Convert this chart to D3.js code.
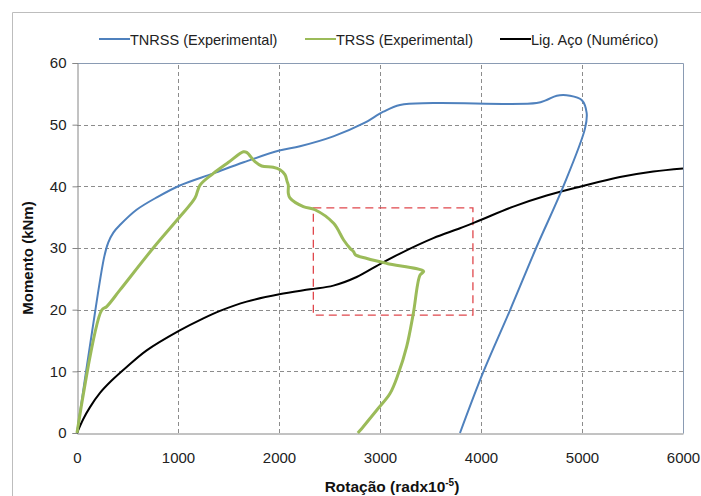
<!DOCTYPE html>
<html>
<head>
<meta charset="utf-8">
<script src="https://cdn.jsdelivr.net/npm/d3@7"></script>
<style>
  html, body { margin: 0; padding: 0; background: #fff; }
  svg { display: block; font-family: "Liberation Sans", Arial, sans-serif; }
</style>
</head>
<body>
<svg id="chart" width="701" height="496"></svg>
<script>
// Moment-rotation curves: rotation (rad x 10^-5) vs moment (kNm)
const xTicks = [0, 1000, 2000, 3000, 4000, 5000, 6000];
const yTicks = [0, 10, 20, 30, 40, 50, 60];

const seriesNames = ["TNRSS (Experimental)", "TRSS (Experimental)", "Lig. Aço (Numérico)"];
const seriesColors = ["#4f81bd", "#9bbb59", "#000000"];

// TNRSS: loading branch, plateau, then unloading back to zero moment
const tnrss = [
  [0, 0], [150, 16.5], [270, 28.6], [310, 30.9], [360, 32.5], [430, 33.8], [590, 36.2],
  [800, 38.3], [1013, 40.1], [1350, 42.1], [1650, 43.9], [2003, 45.8], [2208, 46.5],
  [2538, 48.1], [2835, 50.2], [3033, 52.1], [3198, 53.2], [3528, 53.5], [4551, 53.5],
  [4650, 54.0], [4750, 54.7], [4881, 54.7], [4997, 54.0], [5046, 51.9], [5030, 49.4],
  [4815, 40.0], [4551, 30.2], [4287, 19.9], [4023, 9.9], [3792, 0]
];

// TRSS: loading to the peak, softening, then unloading
const trss = [
  [0, 0], [244, 19.9], [294, 20.5], [426, 23.2], [755, 30.0], [1020, 35.1], [1168, 38.1],
  [1218, 40.2], [1350, 42.1], [1500, 43.9], [1647, 45.6], [1680, 45.5], [1762, 44.0],
  [1828, 43.3], [1943, 43.1], [2010, 42.7], [2059, 41.9], [2080, 40.8], [2092, 40.2],
  [2092, 38.9], [2109, 38.1], [2241, 36.7], [2356, 36.2], [2541, 34.0], [2640, 31.3],
  [2706, 29.9], [2739, 29.4], [2756, 28.9], [2871, 28.3], [3069, 27.5], [3432, 26.2],
  [3396, 25.6], [3330, 19.4], [3264, 14.0], [3181, 9.6], [3099, 6.4], [2967, 3.7],
  [2802, 0.4], [2780, 0]
];

// Numerical model of the steel connection
const ligAco = [
  [0, 0], [60, 2.2], [129, 4.2], [228, 6.5], [343, 8.5], [492, 10.7], [690, 13.4],
  [1013, 16.6], [1251, 18.6], [1416, 19.8], [1680, 21.3], [2003, 22.5], [2307, 23.3],
  [2538, 23.9], [2769, 25.3], [3000, 27.4], [3198, 29.1], [3528, 31.6], [3792, 33.2],
  [3990, 34.5], [4320, 36.7], [4650, 38.5], [4997, 40.0], [5376, 41.5], [5706, 42.4],
  [6000, 42.9]
];

// Highlighted region (rotation / moment bounds)
const highlightX = [2340, 3920];
const highlightY = [19.1, 36.5];

const svg = d3.select("#chart");
const W = 701, H = 496;
const margin = { left: 77, right: 18, top: 63, bottom: 63 };
const iw = W - margin.left - margin.right;
const ih = H - margin.top - margin.bottom;

// Outer chart frame
svg.append("path")
  .attr("d", `M12.5,${H} L12.5,12.5 L${W},12.5`)
  .attr("fill", "none").attr("stroke", "#bdbdbd").attr("stroke-width", 1);

const x = d3.scaleLinear().domain([0, 6000]).range([margin.left, margin.left + iw]);
const y = d3.scaleLinear().domain([0, 60]).range([margin.top + ih, margin.top]);

const g = svg.append("g");

// Dashed grid
g.append("g").selectAll("line").data(yTicks.filter(v => v > 0 && v < 60)).join("line")
  .attr("x1", x(0)).attr("x2", x(6000))
  .attr("y1", d => Math.round(y(d)) + 0.5).attr("y2", d => Math.round(y(d)) + 0.5)
  .attr("stroke", "#8c8c8c").attr("stroke-width", 1).attr("stroke-dasharray", "4,3");
g.append("g").selectAll("line").data(xTicks.filter(v => v > 0 && v < 6000)).join("line")
  .attr("y1", y(0)).attr("y2", y(60))
  .attr("x1", d => Math.round(x(d)) + 0.5).attr("x2", d => Math.round(x(d)) + 0.5)
  .attr("stroke", "#8c8c8c").attr("stroke-width", 1).attr("stroke-dasharray", "4,3");

// Plot-area frame (top/right)
g.append("path")
  .attr("d", `M${Math.round(x(0)) + 0.5},${Math.round(y(60)) + 0.5} L${Math.round(x(6000)) + 0.5},${Math.round(y(60)) + 0.5} L${Math.round(x(6000)) + 0.5},${Math.round(y(0)) + 0.5}`)
  .attr("fill", "none").attr("stroke", "#8a9bb3").attr("stroke-width", 1);

// Y axis
const yAxis = d3.axisLeft(y).tickValues(yTicks).tickSize(5).tickPadding(6).tickFormat(d3.format("d"));
const ya = svg.append("g").attr("transform", `translate(${Math.round(x(0)) + 0.5},0)`).call(yAxis);
ya.select(".domain").attr("stroke", "#868686");
ya.selectAll(".tick line").attr("stroke", "#868686");
ya.selectAll(".tick text").attr("font-size", 15).attr("fill", "#222")
  .attr("font-family", "Liberation Sans, Arial, sans-serif");

// X axis
const xAxis = d3.axisBottom(x).tickValues(xTicks).tickSize(0).tickPadding(19).tickFormat(d3.format("d"));
const xa = svg.append("g").attr("transform", `translate(0,${Math.round(y(0)) + 0.5})`).call(xAxis);
xa.select(".domain").attr("stroke", "#868686");
xa.selectAll(".tick text").attr("font-size", 15).attr("fill", "#222")
  .attr("font-family", "Liberation Sans, Arial, sans-serif");

// Highlight box
svg.append("rect")
  .attr("x", x(highlightX[0])).attr("y", y(highlightY[1]))
  .attr("width", x(highlightX[1]) - x(highlightX[0]))
  .attr("height", y(highlightY[0]) - y(highlightY[1]))
  .attr("fill", "none").attr("stroke", "#e0474c").attr("stroke-width", 1.3)
  .attr("stroke-dasharray", "8,5");

// Curves
const smooth = d3.line().x(d => x(d[0])).y(d => y(d[1])).curve(d3.curveCatmullRom.alpha(0.5));

svg.append("path").datum(ligAco).attr("d", smooth)
  .attr("fill", "none").attr("stroke", seriesColors[2]).attr("stroke-width", 2);
svg.append("path").datum(tnrss).attr("d", smooth)
  .attr("fill", "none").attr("stroke", seriesColors[0]).attr("stroke-width", 2);
svg.append("path").datum(trss).attr("d", smooth)
  .attr("fill", "none").attr("stroke", seriesColors[1]).attr("stroke-width", 3)
  .attr("stroke-linejoin", "round");

// Legend
const legendX = [99, 305, 500];
const legend = svg.append("g");
seriesNames.forEach((name, i) => {
  legend.append("line")
    .attr("x1", legendX[i]).attr("x2", legendX[i] + 31)
    .attr("y1", 39).attr("y2", 39)
    .attr("stroke", seriesColors[i]).attr("stroke-width", 2);
  legend.append("text")
    .attr("x", legendX[i] + 31).attr("y", 45)
    .attr("font-size", 14.5).attr("fill", "#222")
    .text(name);
});

// Axis titles
const xt = svg.append("text")
  .attr("x", 392).attr("y", 492)
  .attr("text-anchor", "middle")
  .attr("font-size", 15.5).attr("font-weight", "bold").attr("fill", "#111");
xt.append("tspan").text("Rotação (radx10");
xt.append("tspan").attr("font-size", 10).attr("dy", -6).text("-5");
xt.append("tspan").attr("dy", 6).text(")");

svg.append("text")
  .attr("transform", "translate(33,258) rotate(-90)")
  .attr("text-anchor", "middle")
  .attr("font-size", 15).attr("font-weight", "bold").attr("fill", "#111")
  .text("Momento (kNm)");
</script>
</body>
</html>
